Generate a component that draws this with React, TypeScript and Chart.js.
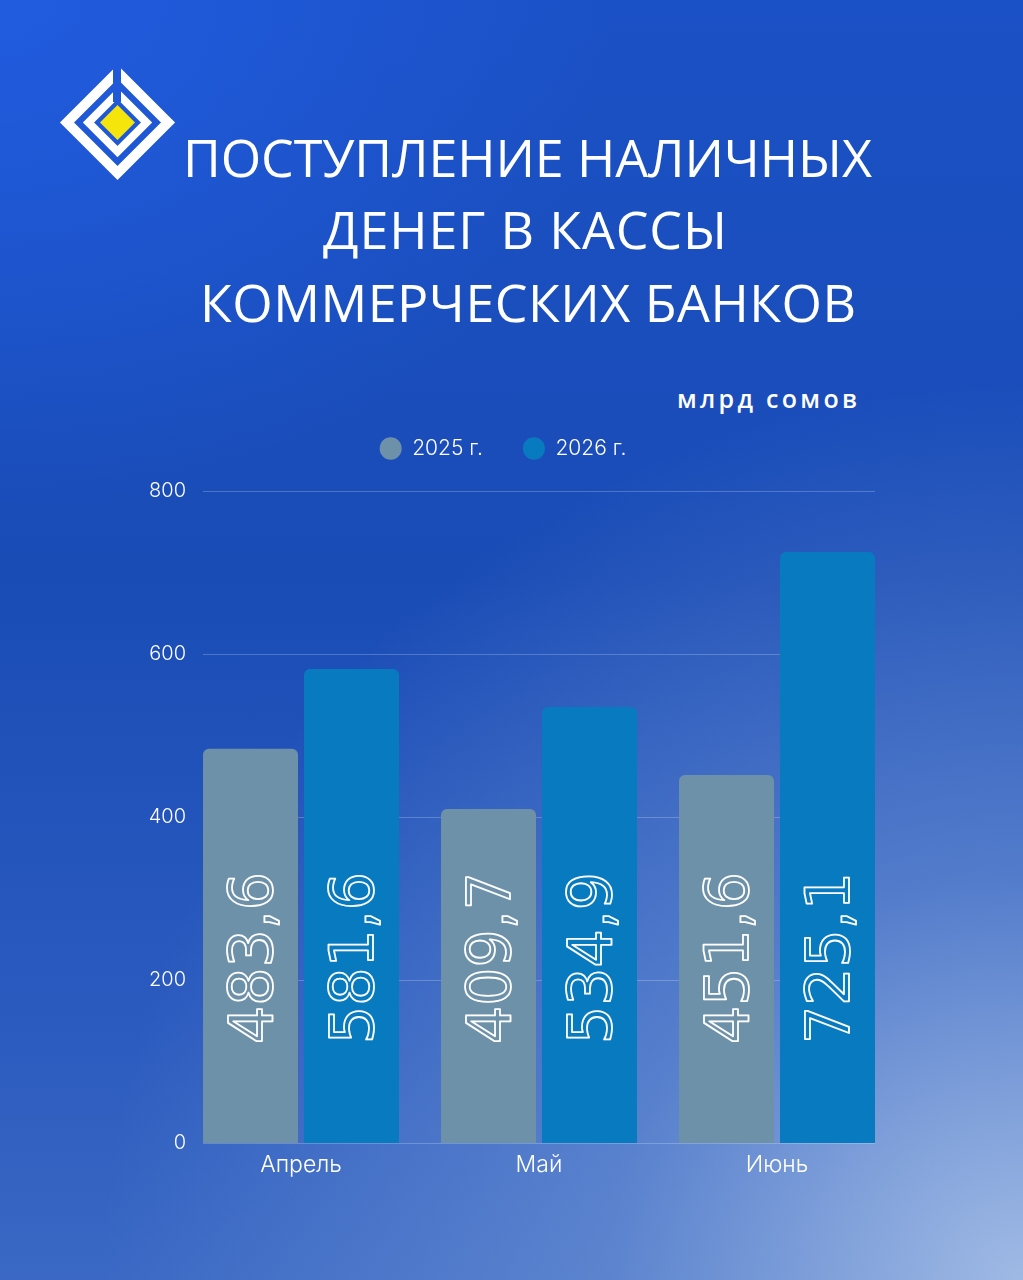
import React, { useEffect, useRef } from 'react';
import { Chart, registerables } from 'chart.js';

Chart.register(...registerables);

const categories = ['Апрель', 'Май', 'Июнь'];
const seriesNames = ['2025 г.', '2026 г.'];
const values2025 = [483.6, 409.7, 451.6];
const values2026 = [581.6, 534.9, 725.1];
const yMin = 0;
const yMax = 800;
const yStep = 200;
const titleLines = ['ПОСТУПЛЕНИЕ НАЛИЧНЫХ', 'ДЕНЕГ В КАССЫ', 'КОММЕРЧЕСКИХ БАНКОВ'];
const unitLabel = 'млрд сомов';

const COLOR_2025 = '#6e91aa';
const COLOR_2026 = '#087bc0';

const fmt = (v: number) => v.toFixed(1).replace('.', ',');

const shortGridPlugin = {
  id: 'shortGrid',
  beforeDatasetsDraw(chart: any) {
    const ctx = chart.ctx;
    const y = chart.scales.y;
    const first = chart.getDatasetMeta(0).data[0];
    const lastData = chart.getDatasetMeta(1).data;
    const last = lastData[lastData.length - 1];
    const x0 = first.x - first.width / 2;
    const x1 = last.x + last.width / 2;
    ctx.save();
    ctx.strokeStyle = 'rgba(255,255,255,0.22)';
    ctx.lineWidth = 1;
    y.ticks.forEach((t: any) => {
      const py = Math.round(y.getPixelForValue(t.value)) + 0.5;
      ctx.beginPath();
      ctx.moveTo(x0, py);
      ctx.lineTo(x1, py);
      ctx.stroke();
    });
    ctx.restore();
  },
};

const valueLabelPlugin = {
  id: 'valueLabels',
  afterDatasetsDraw(chart: any) {
    const ctx = chart.ctx;
    const fontSize = 60;
    chart.data.datasets.forEach((ds: any, di: number) => {
      const meta = chart.getDatasetMeta(di);
      meta.data.forEach((bar: any, i: number) => {
        const text = fmt(ds.data[i]);
        ctx.save();
        ctx.translate(bar.x, bar.base - 185);
        ctx.rotate(-Math.PI / 2);
        ctx.font = `${fontSize}px "DejaVu Sans"`;
        ctx.textAlign = 'center';
        ctx.textBaseline = 'alphabetic';
        ctx.strokeStyle = '#ffffff';
        ctx.lineWidth = 1.8;
        ctx.lineJoin = 'round';
        ctx.strokeText(text, 0, (fontSize * 0.729) / 2);
        ctx.restore();
      });
    });
  },
};

const legendHeightPlugin = {
  id: 'legendHeight',
  afterInit(chart: any) {
    const legend = chart.legend;
    if (!legend) return;
    const orig = legend.fit;
    legend.fit = function () {
      orig.call(this);
      this.height = 93;
    };
  },
};

export default function App() {
  const canvasRef = useRef<HTMLCanvasElement | null>(null);

  useEffect(() => {
    document.body.style.margin = '0';
    const canvas = canvasRef.current;
    if (!canvas) return;
    Chart.defaults.font.family = 'Inter';
    const barCommon = {
      borderRadius: { topLeft: 6, topRight: 6, bottomLeft: 0, bottomRight: 0 },
      borderSkipped: false,
      categoryPercentage: 0.8487,
      barPercentage: 0.9406,
    };
    const chart = new Chart(canvas, {
      type: 'bar',
      data: {
        labels: categories,
        datasets: [
          { label: seriesNames[0], data: values2025, backgroundColor: COLOR_2025, ...barCommon },
          { label: seriesNames[1], data: values2026, backgroundColor: COLOR_2026, ...barCommon },
        ],
      },
      options: {
        responsive: false,
        animation: false,
        devicePixelRatio: 1,
        layout: { padding: { left: 110, right: 127, top: 0, bottom: 0 } },
        plugins: {
          legend: {
            display: true,
            position: 'top',
            align: 'center',
            labels: {
              usePointStyle: true,
              pointStyle: 'circle',
              pointStyleWidth: 22,
              boxHeight: 16,
              padding: 40,
              color: '#ffffff',
              font: { family: 'Inter', size: 21, weight: '300' },
            },
          },
          tooltip: { enabled: false },
          title: { display: false },
        },
        scales: {
          x: {
            grid: { display: false, drawTicks: false },
            border: { display: false },
            ticks: {
              color: '#ffffff',
              padding: 8,
              font: { family: 'Inter', size: 23, weight: '300' },
            },
            afterFit(scale: any) {
              scale.height = 75;
            },
          },
          y: {
            min: yMin,
            max: yMax,
            grid: { display: false, drawTicks: false },
            border: { display: false },
            ticks: {
              stepSize: yStep,
              color: '#ffffff',
              padding: -4,
              font: { family: 'Inter', size: 20, weight: '300' },
            },
            afterFit(scale: any) {
              scale.width = 72;
              scale._computeLabelArea = () => undefined;
            },
          },
        },
      },
      plugins: [legendHeightPlugin, shortGridPlugin, valueLabelPlugin],
    } as any);
    return () => chart.destroy();
  }, []);

  return (
    <div
      style={{
        position: 'absolute',
        left: 0,
        top: 0,
        width: 1023,
        height: 1280,
        overflow: 'hidden',
        background:
          'radial-gradient(ellipse 90% 70% at 100% 100%, rgba(165,190,230,0.95) 0%, rgba(120,155,215,0.55) 45%, rgba(60,100,200,0) 100%), radial-gradient(ellipse 60% 40% at 0% 0%, rgba(35,95,230,0.8) 0%, rgba(35,95,230,0) 100%), linear-gradient(180deg, #1b51c6 0%, #1a4cb6 45%, #2b5bbf 80%, #3a68c4 100%)',
      }}
    >
      <svg width={1023} height={430} style={{ position: 'absolute', left: 0, top: 0 }}>
        <defs>
          <mask id="logoGap">
            <rect x={0} y={0} width={300} height={300} fill="#fff" />
            <rect x={113} y={55} width={8} height={47} fill="#000" />
          </mask>
        </defs>
        <g mask="url(#logoGap)">
          <polygon
            points="117.5,72 168,122.5 117.5,173 67,122.5"
            fill="none"
            stroke="#ffffff"
            strokeWidth={10}
            strokeLinejoin="miter"
          />
          <polygon
            points="117.5,93.5 146.5,122.5 117.5,151.5 88.5,122.5"
            fill="none"
            stroke="#ffffff"
            strokeWidth={8}
            strokeLinejoin="miter"
          />
        </g>
        <polygon points="117.5,105 135,122.5 117.5,140 100,122.5" fill="#f5e50a" />
        {titleLines.map((line, i) => {
          const specs = [
            { x: 527.5, y: 177, len: 689 },
            { x: 525, y: 249, len: 404 },
            { x: 528, y: 322, len: 656 },
          ][i];
          return (
            <text
              key={i}
              x={specs.x}
              y={specs.y}
              textAnchor="middle"
              textLength={specs.len}
              lengthAdjust="spacing"
              fontFamily="'Open Sans', sans-serif"
              fontWeight={500}
              fontSize={52}
              fill="#ffffff"
            >
              {line}
            </text>
          );
        })}
        <text
          x={857}
          y={408}
          textAnchor="end"
          textLength={180}
          lengthAdjust="spacing"
          fontFamily="'Open Sans', sans-serif"
          fontWeight={600}
          fontSize={25}
          fill="#ffffff"
        >
          {unitLabel}
        </text>
      </svg>
      <canvas
        ref={canvasRef}
        width={1023}
        height={820}
        style={{ position: 'absolute', left: 0, top: 398, width: 1023, height: 820 }}
      />
    </div>
  );
}
